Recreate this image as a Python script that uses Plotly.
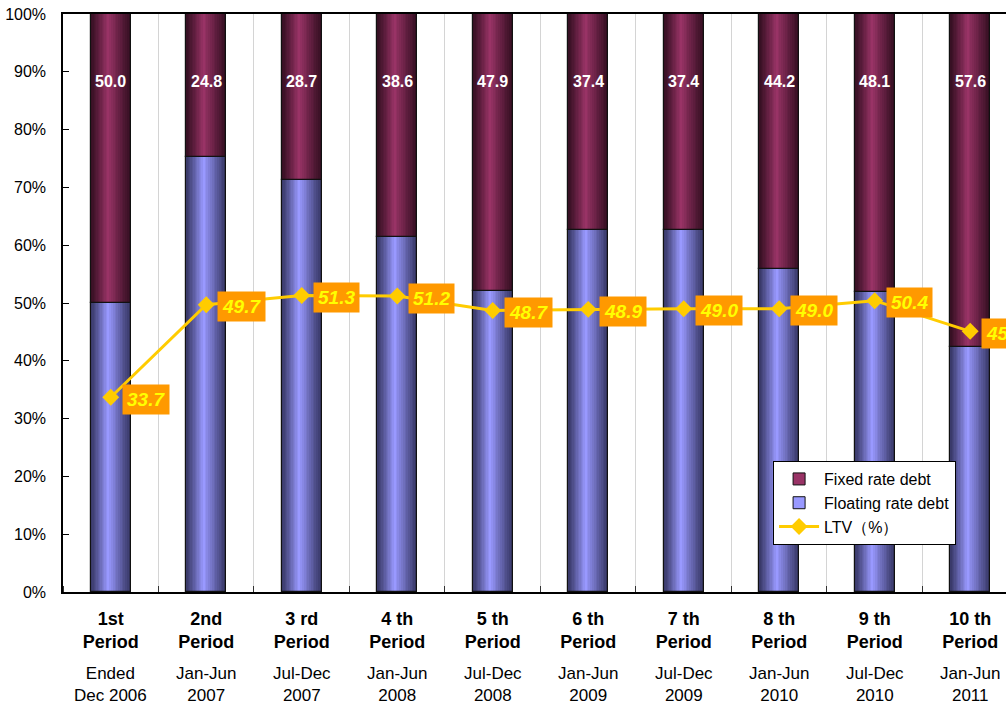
import plotly.graph_objects as go

# Fiscal periods and their date ranges
periods = ["1st<br>Period", "2nd<br>Period", "3 rd<br>Period", "4 th<br>Period", "5 th<br>Period",
           "6 th<br>Period", "7 th<br>Period", "8 th<br>Period", "9 th<br>Period", "10 th<br>Period"]
date_ranges = ["Ended<br>Dec 2006", "Jan-Jun<br>2007", "Jul-Dec<br>2007", "Jan-Jun<br>2008", "Jul-Dec<br>2008",
               "Jan-Jun<br>2009", "Jul-Dec<br>2009", "Jan-Jun<br>2010", "Jul-Dec<br>2010", "Jan-Jun<br>2011"]

# Debt mix (%) and loan-to-value ratio (%)
fixed_rate = [50.0, 24.8, 28.7, 38.6, 47.9, 37.4, 37.4, 44.2, 48.1, 57.6]
floating_rate = [50.0, 75.2, 71.3, 61.4, 52.1, 62.6, 62.6, 55.8, 51.9, 42.4]
ltv = [33.7, 49.7, 51.3, 51.2, 48.7, 48.9, 49.0, 49.0, 50.4, 45.1]

y_ticks = list(range(0, 101, 10))
y_tick_text = ["%d%%" % v for v in y_ticks]

xs = list(range(len(periods)))
BAR_W = 0.415
FONT = "Liberation Sans, Arial"


def mix(c1, c2, t):
    a = [int(c1[i:i + 2], 16) for i in (1, 3, 5)]
    b = [int(c2[i:i + 2], 16) for i in (1, 3, 5)]
    return "rgb(%d,%d,%d)" % tuple(round(a[k] + (b[k] - a[k]) * t) for k in range(3))


fig = go.Figure()


def shaded_bars(values, bases, dark, light):
    # nested bars approximate a cylinder-like horizontal gradient
    n = 12
    for k in range(n + 1):
        t = k / n
        left = 0.034 * k
        right = 1.0 - 0.045 * k
        if right <= left:
            break
        fig.add_trace(go.Bar(
            x=xs, y=values, base=bases,
            width=BAR_W * (right - left), offset=-BAR_W / 2 + BAR_W * left,
            marker=dict(color=mix(dark, light, t ** 1.1), line=dict(width=0)),
            showlegend=False, hoverinfo="skip",
        ))
    fig.add_trace(go.Bar(
        x=xs, y=values, base=bases, width=BAR_W, offset=-BAR_W / 2,
        marker=dict(color="rgba(0,0,0,0)", line=dict(color="#111111", width=1.2)),
        showlegend=False, hoverinfo="skip",
    ))


shaded_bars(floating_rate, [0] * len(xs), "#3a3a6a", "#9999ff")
shaded_bars(fixed_rate, floating_rate, "#381024", "#993366")

# legend entries
fig.add_trace(go.Bar(x=[None], y=[None], name="Fixed rate debt",
                     marker=dict(color="#993366", line=dict(color="#111111", width=1))))
fig.add_trace(go.Bar(x=[None], y=[None], name="Floating rate debt",
                     marker=dict(color="#9999ff", line=dict(color="#111111", width=1))))

fig.add_trace(go.Scatter(
    x=xs, y=ltv, mode="lines+markers", name="LTV（%）",
    line=dict(color="#ffcc00", width=3),
    marker=dict(symbol="diamond", size=13, color="#ffcc00"),
))

annotations = []
for i, v in enumerate(fixed_rate):
    annotations.append(dict(
        x=i, y=88.4, xref="x", yref="y", text="<b>%.1f</b>" % v, showarrow=False,
        font=dict(family=FONT, size=16, color="white"),
    ))
for i, v in enumerate(ltv):
    annotations.append(dict(
        x=i, y=v, xref="x", yref="y", text="<b><i>%.1f</i></b>" % v, showarrow=False,
        xanchor="left", xshift=11, yshift=-2,
        font=dict(family=FONT, size=19, color="#ffff00"),
        bgcolor="#ff9900", borderpad=4,
    ))
for i, d in enumerate(date_ranges):
    annotations.append(dict(
        x=i, y=-0.121, xref="x", yref="paper", text=d, showarrow=False,
        yanchor="top",
        font=dict(family=FONT, size=17, color="black"),
    ))

fig.update_layout(
    width=1006, height=705,
    margin=dict(l=63, r=0, t=14, b=113),
    plot_bgcolor="white", paper_bgcolor="white",
    barmode="overlay", bargap=0,
    font=dict(family=FONT, color="black"),
    annotations=annotations,
    legend=dict(
        x=0.753, y=0.2266, xanchor="left", yanchor="top",
        bgcolor="white", bordercolor="black", borderwidth=1,
        font=dict(size=16, color="black"), tracegroupgap=0,
        traceorder="normal", itemwidth=40,
    ),
    xaxis=dict(
        range=[-0.5, 9.375],
        tickmode="array", tickvals=xs, ticktext=["<b>%s</b>" % p for p in periods],
        tickfont=dict(size=18, color="black"),
        ticks="", ticklabelstandoff=9,
        showgrid=False, zeroline=False,
        showline=True, linecolor="black", linewidth=2, mirror=True,
        minor=dict(tick0=0.5, dtick=1, showgrid=True, gridcolor="#d4d4d4", gridwidth=1,
                   ticks="inside", ticklen=6, tickcolor="#333333"),
    ),
    yaxis=dict(
        range=[0, 100], tickmode="array", tickvals=y_ticks, ticktext=y_tick_text,
        tickfont=dict(size=16, color="black"),
        ticks="inside", ticklen=6, tickcolor="black",
        ticklabelstandoff=12,
        showgrid=False, zeroline=False,
        showline=True, linecolor="black", linewidth=1.5,
    ),
)

fig.write_html("out.html")
